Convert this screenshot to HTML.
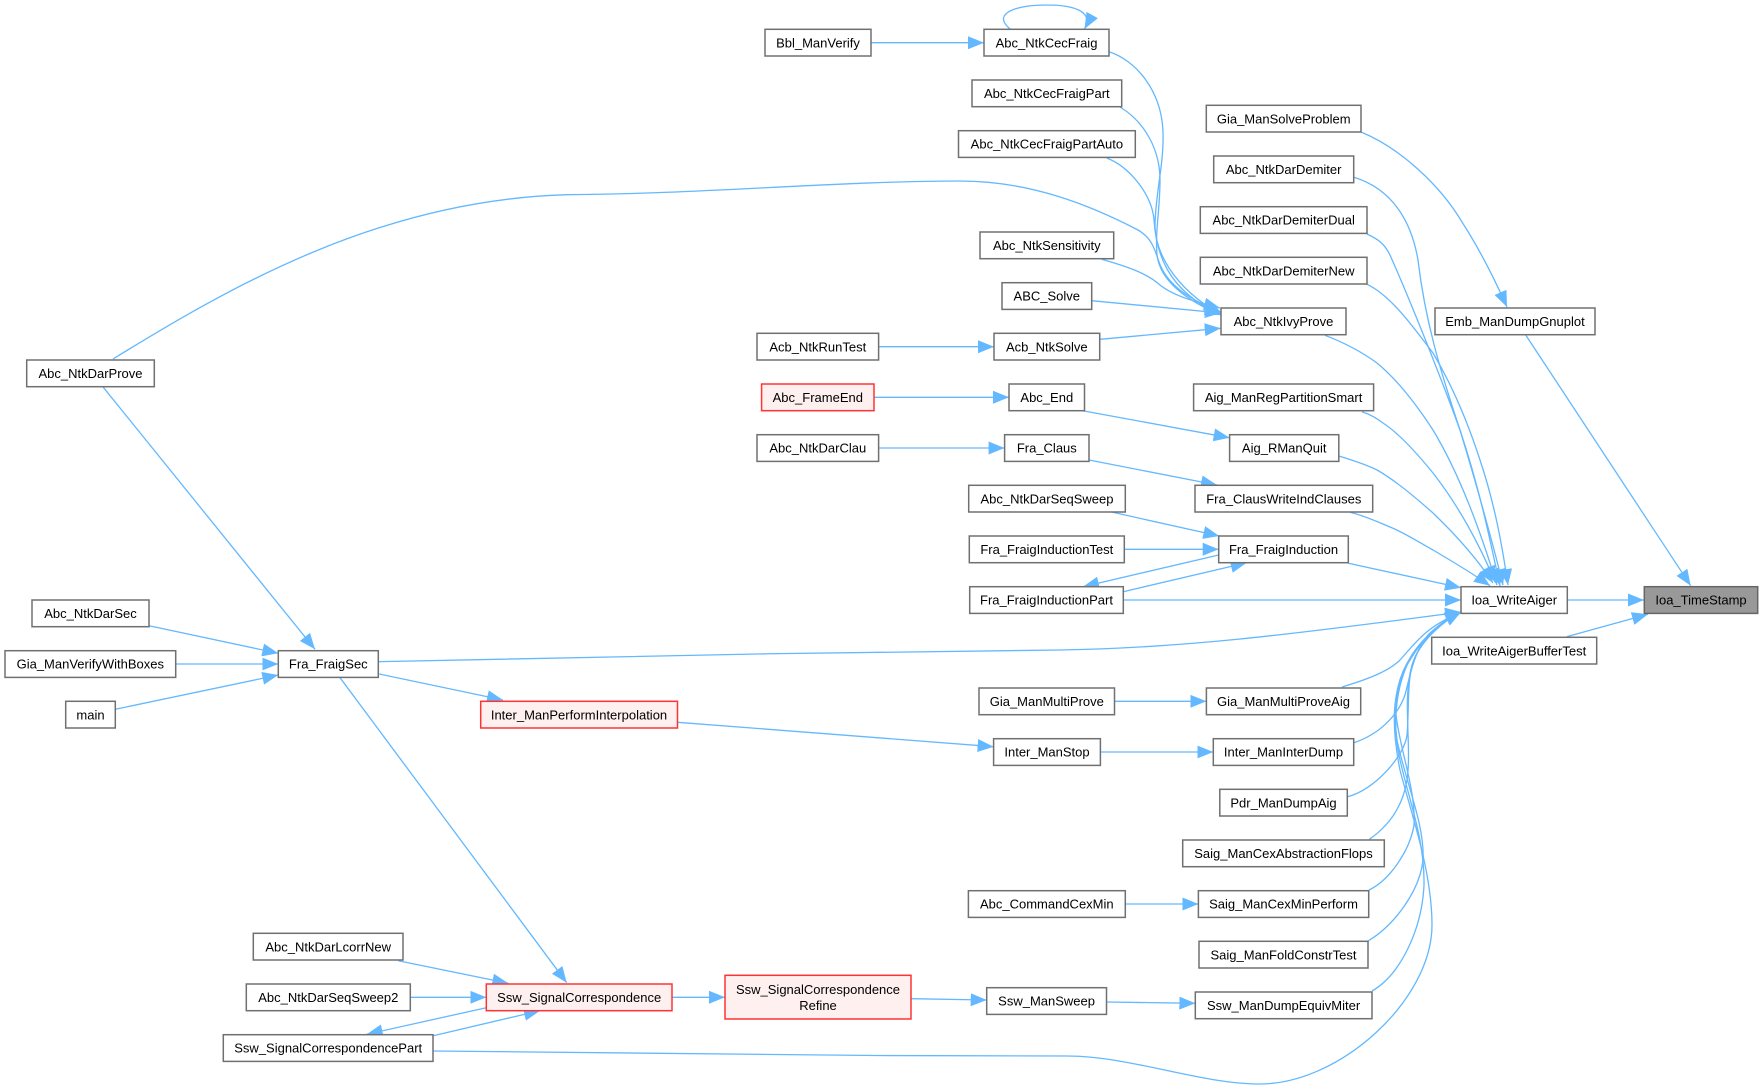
<!DOCTYPE html>
<html><head><meta charset="utf-8"><style>
html,body{margin:0;padding:0;background:#fff}
svg{display:block}
text{font-family:"Liberation Sans",Arial,sans-serif;font-size:13px;text-anchor:middle;fill:#000}
rect{fill:#fff;stroke:#707070;stroke-width:1.5}
rect.r{fill:#fff0f0;stroke:#f33}
rect.g{fill:#999;stroke:#666}
path{fill:none;stroke:#63b8ff;stroke-width:1.3;marker-end:url(#a)}
</style></head><body>
<svg width="1764" height="1090" viewBox="0 0 1764 1090" xmlns="http://www.w3.org/2000/svg">
<defs><marker id="a" markerUnits="userSpaceOnUse" markerWidth="16" markerHeight="14" refX="16" refY="7" orient="auto"><polygon points="0,0.5 16,7 0,13.5" fill="#63b8ff"/></marker></defs>
<g>
<path d="M1525.7,335L1690.7,585.7"/>
<path d="M1567.5,600H1644"/>
<path d="M1566.7,636.7L1648,614.3"/>
<path d="M1361,132C1400,148 1440,185 1462,222C1480,250 1495,280 1507,307"/>
<path d="M1354,177.3C1395,190 1412,225 1418,260C1425,320 1440,370 1460,430C1478,490 1492,540 1503,585"/>
<path d="M1367,234C1380,240 1385,245 1390,255C1410,300 1440,375 1460,430C1480,490 1490,540 1500,586"/>
<path d="M1367,284.3C1390,295 1412,325 1433,353C1452,385 1467,420 1480,460C1495,505 1502,545 1508,585"/>
<path d="M1325,335.3C1345,343 1362,352 1377,363C1400,382 1420,410 1433,430C1460,475 1480,530 1497,585"/>
<path d="M1362,411.7C1372,415 1378,419 1383,423C1400,434 1420,457 1433,473C1458,505 1480,545 1495,582"/>
<path d="M1338.8,456C1352,460 1365,464 1377,470C1395,480 1415,497 1433,513C1458,537 1478,560 1493,583"/>
<path d="M1350,512.3C1365,516 1378,522 1390,527C1405,533 1420,543 1433,550C1450,560 1472,573 1490,585.7"/>
<path d="M1348.3,563.3L1461,587.7"/>
<path d="M1123.5,600H1461"/>
<path d="M378,661.7C550,657 850,652 1060,650C1180,648 1280,636 1461,612"/>
<path d="M1342,687C1372,678 1390,670 1400,660C1418,640 1425,628 1461,612"/>
<path d="M1354,742.7C1380,734 1398,715 1405,695C1410,675 1415,650 1428,635C1438,625 1450,618 1461,612"/>
<path d="M1347.5,796.7C1375,790 1405,755 1407,735C1410,700 1405,670 1420,648C1430,632 1445,620 1461,612"/>
<path d="M1369.3,839.3C1390,825 1403,805 1407,780C1412,745 1402,700 1412,665C1420,640 1445,620 1461,612"/>
<path d="M1369,890C1390,880 1410,850 1414,825C1416,790 1400,750 1396,715C1394,690 1402,670 1412,655C1425,635 1445,620 1461,612"/>
<path d="M1368,941C1395,925 1420,890 1423,860C1425,825 1405,780 1397,740C1392,705 1400,675 1412,655C1425,635 1445,620 1461,612"/>
<path d="M1372,991C1400,975 1422,930 1424,885C1425,835 1405,790 1398,750C1392,715 1398,680 1412,655C1425,635 1445,620 1461,612"/>
<path d="M433,1051C600,1054 850,1056 1067,1056C1130,1056 1200,1084 1260,1084C1340,1084 1432,1000 1432,925C1432,870 1410,810 1400,770C1392,730 1390,690 1410,660C1425,635 1440,622 1461,612"/>
<path d="M871,42.7H984"/>
<path d="M1010,29C990,12 1020,5 1047,5C1070,5 1095,10 1084.5,29"/>
<path d="M1109,51.7C1135,60 1162,90 1163,133C1164,165 1155,195 1155,227C1156,250 1170,285 1221,315"/>
<path d="M1120,107C1145,122 1160,150 1160,180C1160,210 1155,230 1157,255C1160,280 1185,300 1221,315"/>
<path d="M1106.7,158C1130,167 1152,195 1154,220C1156,250 1165,290 1221,315"/>
<path d="M113,359C230,287 380,200 567,194.7C700,194 840,181 960,181C1030,181 1090,205 1138,230C1152,238 1155,250 1159,262C1167,285 1190,300 1221,312"/>
<path d="M1101.7,259.3C1125,266 1147,273 1160,285C1175,297 1200,303 1220,308"/>
<path d="M1091.7,300.7L1221,313"/>
<path d="M1100,339.3L1220.7,328.3"/>
<path d="M878.6,346.7H994"/>
<path d="M874,397.3H1009"/>
<path d="M1082,410.6L1229.6,437.8"/>
<path d="M1089,460L1217,485"/>
<path d="M878.6,448H1004.6"/>
<path d="M1112.7,512.3L1219.3,536"/>
<path d="M1124.3,549.3H1218.7"/>
<path d="M1218.7,555L1083,586.7"/>
<path d="M1123.3,591.7L1246.7,562.7"/>
<path d="M1114.5,701.3H1206.4"/>
<path d="M1100.4,752H1213.3"/>
<path d="M677.5,722.3L993.6,746.7"/>
<path d="M1125.3,904H1198.4"/>
<path d="M1106.5,1002L1195.3,1003.3"/>
<path d="M911,998.7L986.7,1000"/>
<path d="M672,997.3H725"/>
<path d="M379.3,674L503,700"/>
<path d="M340,677.7L566.7,982.7"/>
<path d="M103.3,387.3L315,649.3"/>
<path d="M149,625.7L278.3,653.3"/>
<path d="M175.7,664H278.3"/>
<path d="M115.3,709.3L278.3,675"/>
<path d="M398.3,960.7L508.3,983.3"/>
<path d="M410.3,997.3H486.3"/>
<path d="M486.3,1007.7L366.7,1034.3"/>
<path d="M433.3,1035.7L540,1010.7"/>
</g>
<g>
<rect x="765" y="29.3" width="106" height="26.7"/><text x="818" y="47.4">Bbl_ManVerify</text>
<rect x="984" y="29.3" width="125" height="26.7"/><text x="1046.5" y="47.4">Abc_NtkCecFraig</text>
<rect x="972" y="80" width="149.7" height="26.7"/><text x="1046.8" y="98">Abc_NtkCecFraigPart</text>
<rect x="958.5" y="130.7" width="176.8" height="26.7"/><text x="1046.9" y="148.7">Abc_NtkCecFraigPartAuto</text>
<rect x="980" y="232" width="133.7" height="26.7"/><text x="1046.8" y="250">Abc_NtkSensitivity</text>
<rect x="1002" y="282.7" width="89.7" height="26.7"/><text x="1046.8" y="300.7">ABC_Solve</text>
<rect x="994" y="333.3" width="105.7" height="26.7"/><text x="1046.8" y="351.4">Acb_NtkSolve</text>
<rect x="757" y="333.3" width="121.6" height="26.7"/><text x="817.8" y="351.4">Acb_NtkRunTest</text>
<rect x="1009" y="384" width="75.5" height="26.7"/><text x="1046.8" y="402">Abc_End</text>
<rect class="r" x="761.6" y="384" width="112.4" height="26.7"/><text x="817.8" y="402">Abc_FrameEnd</text>
<rect x="1004.6" y="434.7" width="84.4" height="26.7"/><text x="1046.8" y="452.7">Fra_Claus</text>
<rect x="757" y="434.7" width="121.6" height="26.7"/><text x="817.8" y="452.7">Abc_NtkDarClau</text>
<rect x="968.7" y="485.3" width="156.6" height="26.7"/><text x="1047" y="503.4">Abc_NtkDarSeqSweep</text>
<rect x="969.3" y="536" width="155" height="26.7"/><text x="1046.8" y="554">Fra_FraigInductionTest</text>
<rect x="969.7" y="586.7" width="153.6" height="26.7"/><text x="1046.5" y="604.7">Fra_FraigInductionPart</text>
<rect x="979" y="688" width="135.5" height="26.7"/><text x="1046.8" y="706">Gia_ManMultiProve</text>
<rect x="993.6" y="738.7" width="106.8" height="26.7"/><text x="1047" y="756.7">Inter_ManStop</text>
<rect x="968.4" y="890.7" width="156.9" height="26.7"/><text x="1046.8" y="908.7">Abc_CommandCexMin</text>
<rect x="986.7" y="987.7" width="119.8" height="26.7"/><text x="1046.6" y="1005.7">Ssw_ManSweep</text>

<rect x="1206.3" y="105.3" width="154.7" height="26.7"/><text x="1283.7" y="123.4">Gia_ManSolveProblem</text>
<rect x="1213.7" y="156" width="140" height="26.7"/><text x="1283.7" y="174">Abc_NtkDarDemiter</text>
<rect x="1200.3" y="206.7" width="166.7" height="26.7"/><text x="1283.7" y="224.7">Abc_NtkDarDemiterDual</text>
<rect x="1200.3" y="257.3" width="166.7" height="26.7"/><text x="1283.7" y="275.4">Abc_NtkDarDemiterNew</text>
<rect x="1221" y="308" width="125" height="26.7"/><text x="1283.5" y="326">Abc_NtkIvyProve</text>
<rect x="1193.6" y="384" width="180" height="26.7"/><text x="1283.6" y="402">Aig_ManRegPartitionSmart</text>
<rect x="1229.6" y="434.7" width="109.2" height="26.7"/><text x="1284.2" y="452.7">Aig_RManQuit</text>
<rect x="1195" y="485.3" width="177.7" height="26.7"/><text x="1283.8" y="503.4">Fra_ClausWriteIndClauses</text>
<rect x="1218.7" y="536" width="129.6" height="26.7"/><text x="1283.5" y="554">Fra_FraigInduction</text>
<rect x="1206.4" y="688" width="154.3" height="26.7"/><text x="1283.5" y="706">Gia_ManMultiProveAig</text>
<rect x="1213.3" y="738.7" width="140.4" height="26.7"/><text x="1283.5" y="756.7">Inter_ManInterDump</text>
<rect x="1219.8" y="789.3" width="127.5" height="26.7"/><text x="1283.5" y="807.4">Pdr_ManDumpAig</text>
<rect x="1182.7" y="840" width="201.6" height="26.7"/><text x="1283.5" y="858">Saig_ManCexAbstractionFlops</text>
<rect x="1198.4" y="890.7" width="170.3" height="26.7"/><text x="1283.5" y="908.7">Saig_ManCexMinPerform</text>
<rect x="1199" y="941.3" width="169" height="26.7"/><text x="1283.5" y="959.4">Saig_ManFoldConstrTest</text>
<rect x="1195.3" y="992" width="176.7" height="26.7"/><text x="1283.6" y="1010">Ssw_ManDumpEquivMiter</text>

<rect x="1435" y="308" width="160" height="26.7"/><text x="1515" y="326">Emb_ManDumpGnuplot</text>
<rect x="1461" y="586.7" width="106.3" height="26.7"/><text x="1514.2" y="604.7">Ioa_WriteAiger</text>
<rect x="1431.7" y="637.3" width="165" height="26.7"/><text x="1514.2" y="655.4">Ioa_WriteAigerBufferTest</text>
<rect class="g" x="1644.3" y="586.7" width="113.4" height="26.7"/><text x="1701" y="604.7">Ioa_TimeStamp</text>

<rect x="26.7" y="360" width="127.6" height="26.7"/><text x="90.5" y="378">Abc_NtkDarProve</text>
<rect x="32" y="600" width="117" height="26.7"/><text x="90.5" y="618">Abc_NtkDarSec</text>
<rect x="5" y="650.7" width="170.7" height="26.7"/><text x="90.3" y="668.7">Gia_ManVerifyWithBoxes</text>
<rect x="65.7" y="701.3" width="49.6" height="26.7"/><text x="90.5" y="719.4">main</text>
<rect x="278.3" y="650.7" width="100" height="26.7"/><text x="328.3" y="668.7">Fra_FraigSec</text>
<rect class="r" x="480.7" y="701.3" width="196.8" height="26.7"/><text x="579" y="719.4">Inter_ManPerformInterpolation</text>
<rect x="253.3" y="933.3" width="149.7" height="26.7"/><text x="328.2" y="951.4">Abc_NtkDarLcorrNew</text>
<rect x="246.3" y="984" width="164" height="26.7"/><text x="328.3" y="1002">Abc_NtkDarSeqSweep2</text>
<rect x="223.3" y="1034.7" width="209.7" height="26.7"/><text x="328.2" y="1052.7">Ssw_SignalCorrespondencePart</text>
<rect class="r" x="486.3" y="984" width="185.7" height="26.7"/><text x="579.2" y="1002">Ssw_SignalCorrespondence</text>
<rect class="r" x="725" y="975.3" width="186" height="43.7"/><text x="818" y="993.8">Ssw_SignalCorrespondence</text><text x="818" y="1009.8">Refine</text>
</g>
</svg>
</body></html>
